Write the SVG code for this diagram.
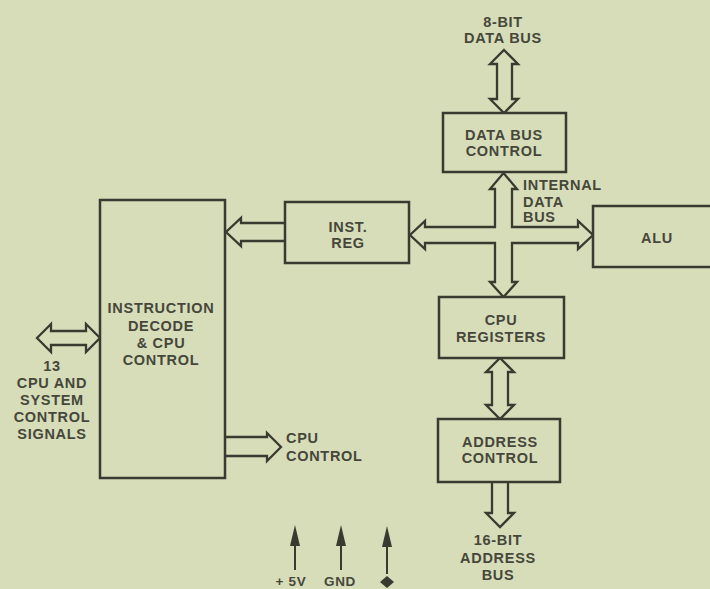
<svg xmlns="http://www.w3.org/2000/svg" width="710" height="589" viewBox="0 0 710 589">
<style>
.bg{fill:#d7ddb9}
.box{fill:#d7ddb9;stroke:#3a3b30;stroke-width:2.5}
.bus{fill:#d7ddb9;stroke:#3a3b30;stroke-width:2.3;stroke-linejoin:miter}
.pw{stroke:#3a3b30;stroke-width:2;fill:none}
.hd{fill:#3a3b30}
text{font-family:"Liberation Sans",Arial,sans-serif;font-weight:bold;font-size:14.5px;fill:#46473b;letter-spacing:0.7px;text-anchor:middle}
.l{text-anchor:start}
.s{font-size:13.5px}
</style>
<rect class="bg" x="0" y="0" width="710" height="589"/>
<g id="connectors">
  <polygon class="bus" points="504,50 518,64 512,64 512,99 518,99 504,113 490,99 497,99 497,64 490,64"/>
  <polygon class="bus" points="503.5,173 517,189 512,189 512,227 578,227 578,221 593,235 578,249 578,243 512,243 512,282 517,282 503.5,297 490,282 495,282 495,243 425,243 425,249 410,235 425,221 425,227 495,227 495,189 490,189"/>
  <polygon class="bus" points="286,223 241,223 241,218 226,232 241,246 241,241 286,241"/>
  <polygon class="bus" points="37,338 51,324 51,331 86,331 86,324 100,338 86,352 86,345 51,345 51,352"/>
  <polygon class="bus" points="224,437 267,437 267,433 281,447 267,461 267,456 224,456"/>
  <polygon class="bus" points="500,358 514,372 508,372 508,405 514,405 500,419 486,405 492,405 492,372 486,372"/>
  <polygon class="bus" points="492,481 508,481 508,513 514,513 500,527 486,513 492,513"/>
  <line class="pw" x1="295" y1="540" x2="295" y2="570"/>
  <polygon class="hd" points="295,525 300,546 290,546"/>
  <line class="pw" x1="341" y1="540" x2="341" y2="570"/>
  <polygon class="hd" points="341,525 346,546 336,546"/>
  <line class="pw" x1="387" y1="540" x2="387" y2="574"/>
  <polygon class="hd" points="387,526 392,547 382,547"/>
  <polygon class="hd" points="387,576 394,582 387,588 380,582"/>
</g>
<g id="label-8bit">
  <text x="503" y="27">8-BIT</text>
  <text x="503" y="43">DATA BUS</text>
</g>
<g id="node-databus">
  <rect class="box" x="443" y="113" width="123" height="59"/>
  <text x="504" y="140">DATA BUS</text>
  <text x="504" y="156">CONTROL</text>
</g>
<g id="label-internal">
  <text class="l" x="523" y="190">INTERNAL</text>
  <text class="l" x="523" y="207">DATA</text>
  <text class="l" x="523" y="222">BUS</text>
</g>
<g id="node-instreg">
  <rect class="box" x="285" y="202" width="124" height="61"/>
  <text x="348" y="232">INST.</text>
  <text x="348" y="248">REG</text>
</g>
<g id="node-alu">
  <rect class="box" x="593" y="206" width="130" height="61"/>
  <text x="657" y="243">ALU</text>
</g>
<g id="node-decode">
  <rect class="box" x="100" y="200" width="125" height="278"/>
  <text x="161" y="313">INSTRUCTION</text>
  <text x="161" y="331">DECODE</text>
  <text x="161" y="348">&amp; CPU</text>
  <text x="161" y="365">CONTROL</text>
</g>
<g id="label-signals">
  <text x="52" y="371">13</text>
  <text x="52" y="388">CPU AND</text>
  <text x="52" y="405">SYSTEM</text>
  <text x="52" y="422">CONTROL</text>
  <text x="52" y="439">SIGNALS</text>
</g>
<g id="label-cpucontrol">
  <text class="l" x="286" y="443">CPU</text>
  <text class="l" x="286" y="461">CONTROL</text>
</g>
<g id="node-registers">
  <rect class="box" x="439" y="297" width="125" height="61"/>
  <text x="501" y="325">CPU</text>
  <text x="501" y="342">REGISTERS</text>
</g>
<g id="node-address">
  <rect class="box" x="438" y="419" width="122" height="63"/>
  <text x="500" y="447">ADDRESS</text>
  <text x="500" y="463">CONTROL</text>
</g>
<g id="label-16bit">
  <text x="498" y="545">16-BIT</text>
  <text x="498" y="563">ADDRESS</text>
  <text x="498" y="580">BUS</text>
</g>
<g id="label-power">
  <text class="s" x="291" y="586">+ 5V</text>
  <text class="s" x="340" y="586">GND</text>
</g>
</svg>
